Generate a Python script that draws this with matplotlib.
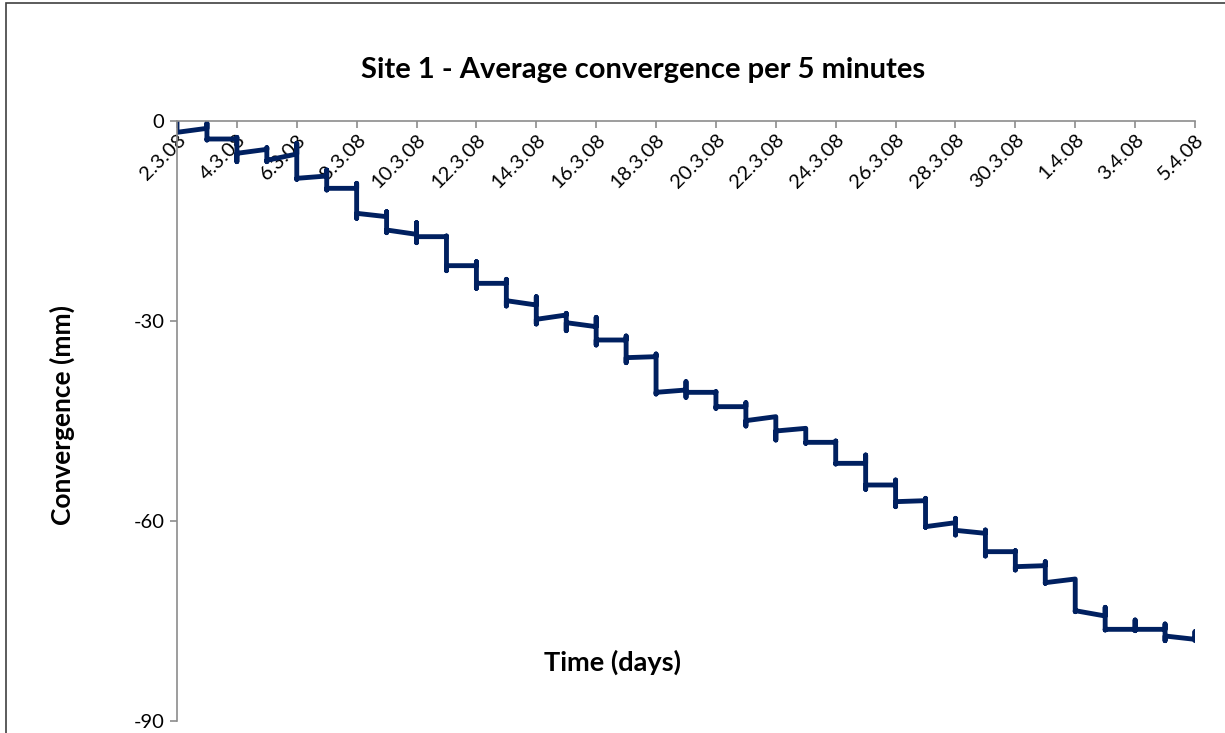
import datetime as dt
import matplotlib
matplotlib.use("Agg")
import matplotlib.pyplot as plt
import matplotlib.dates as mdates
import matplotlib.patches as mpatches

plt.rcParams['font.family'] = ['Lato', 'DejaVu Sans']
plt.rcParams['axes.unicode_minus'] = False  # plain hyphen like the original

# start date of the record
start_date = dt.datetime(2008, 3, 2)

# at each day boundary the reading jumps: top / bottom of the jump (mm)
jump_top = [0.0, -0.35, -2.45, -4.0, -3.35, -7.35, -9.35, -13.6, -15.25, -17.25,
            -21.1, -23.75, -26.35, -28.85, -29.45, -32.25, -34.95, -39.1, -40.6, -42.25,
            -44.35, -46.1, -48.0, -50.1, -53.85, -56.6, -59.6, -61.35, -64.45, -66.1,
            -68.7, -72.95, -74.85, -75.45, -76.6]
jump_bottom = [-1.7, -2.85, -6.1, -6.1, -8.75, -10.35, -14.6, -16.75, -18.25, -22.45,
               -25.1, -27.75, -30.45, -31.45, -33.6, -36.25, -40.95, -41.45, -43.1, -45.75,
               -47.85, -48.35, -51.45, -55.25, -57.85, -60.95, -62.1, -65.25, -67.35, -69.35,
               -73.6, -76.35, -76.45, -77.95, -77.95]
# level right after the jump and at the end of each day (mm)
day_start = [-1.7, -2.7, -4.85, -5.9, -8.6, -10.1, -13.85, -16.35, -17.35, -21.7,
             -24.35, -26.95, -29.75, -30.25, -32.85, -35.5, -40.7, -40.7, -42.85, -44.95,
             -46.5, -48.2, -51.35, -54.6, -57.1, -60.85, -61.4, -64.6, -66.85, -69.25,
             -73.45, -76.25, -76.25, -77.25]
day_end = [-1.1, -2.7, -4.25, -4.95, -8.25, -10.1, -14.35, -17.0, -17.35, -21.7,
           -24.35, -27.6, -29.1, -30.85, -32.85, -35.35, -40.35, -40.7, -42.85, -44.35,
           -46.1, -48.2, -51.35, -54.6, -56.95, -60.25, -61.85, -64.6, -66.7, -68.7,
           -74.25, -76.25, -76.25, -77.75]

# build the series
times, values = [], []
for i in range(len(jump_top)):
    t = start_date + dt.timedelta(days=i)
    times += [t, t]
    values += [jump_top[i], jump_bottom[i]]
    if i < len(day_start):
        times += [t, t + dt.timedelta(days=1)]
        values += [day_start[i], day_end[i]]

fig = plt.figure(figsize=(12.25, 7.33), dpi=100)
ax = fig.add_axes([177 / 1225, 1 - 721 / 733, (1195 - 177) / 1225, 600 / 733])

ax.plot(times, values, color="#002060", lw=3.5, solid_capstyle="round",
        solid_joinstyle="round")

ax.set_xlim(start_date, start_date + dt.timedelta(days=34))
ax.set_ylim(-90, 0)
ax.set_yticks([0, -30, -60, -90])

# x axis sits on y = 0 at the top
ax.spines['top'].set_visible(False)
ax.spines['right'].set_visible(False)
ax.spines['bottom'].set_position(('data', 0))
for s in ['left', 'bottom']:
    ax.spines[s].set_color("#8c8c8c")
    ax.spines[s].set_linewidth(1.2)

ax.xaxis.set_major_locator(mdates.DayLocator(interval=2))
ax.xaxis.set_major_formatter(plt.FuncFormatter(
    lambda x, pos: "{0.day}.{0.month}.{0:%y}".format(mdates.num2date(x))))
ax.tick_params(axis='both', colors="#8c8c8c", length=5, width=1.2, labelcolor="black",
               labelsize=14.5)
ax.tick_params(axis='x', pad=2)
ax.tick_params(axis='y', pad=4)
for lab in ax.get_xticklabels():
    lab.set_rotation(45)
    lab.set_ha("right")
    lab.set_va("top")
    lab.set_rotation_mode("anchor")

fig.text(643 / 1225, 1 - 70 / 733, "Site 1 - Average convergence per 5 minutes",
         ha="center", va="center", fontsize=21, weight="bold")
fig.text(62 / 1225, 1 - 415 / 733, "Convergence (mm)", rotation=90,
         ha="center", va="center", fontsize=19, weight="bold")
fig.text(613 / 1225, 1 - 662 / 733, "Time (days)",
         ha="center", va="center", fontsize=19.5, weight="bold")

# outer chart frame
fig.patches.append(mpatches.Rectangle((6 / 1225, -0.05), 1.1, 1 - 3 / 733 + 0.05,
                                      transform=fig.transFigure, fill=False,
                                      ec="#404040", lw=1.2))

fig.savefig("out.png", dpi=100)
